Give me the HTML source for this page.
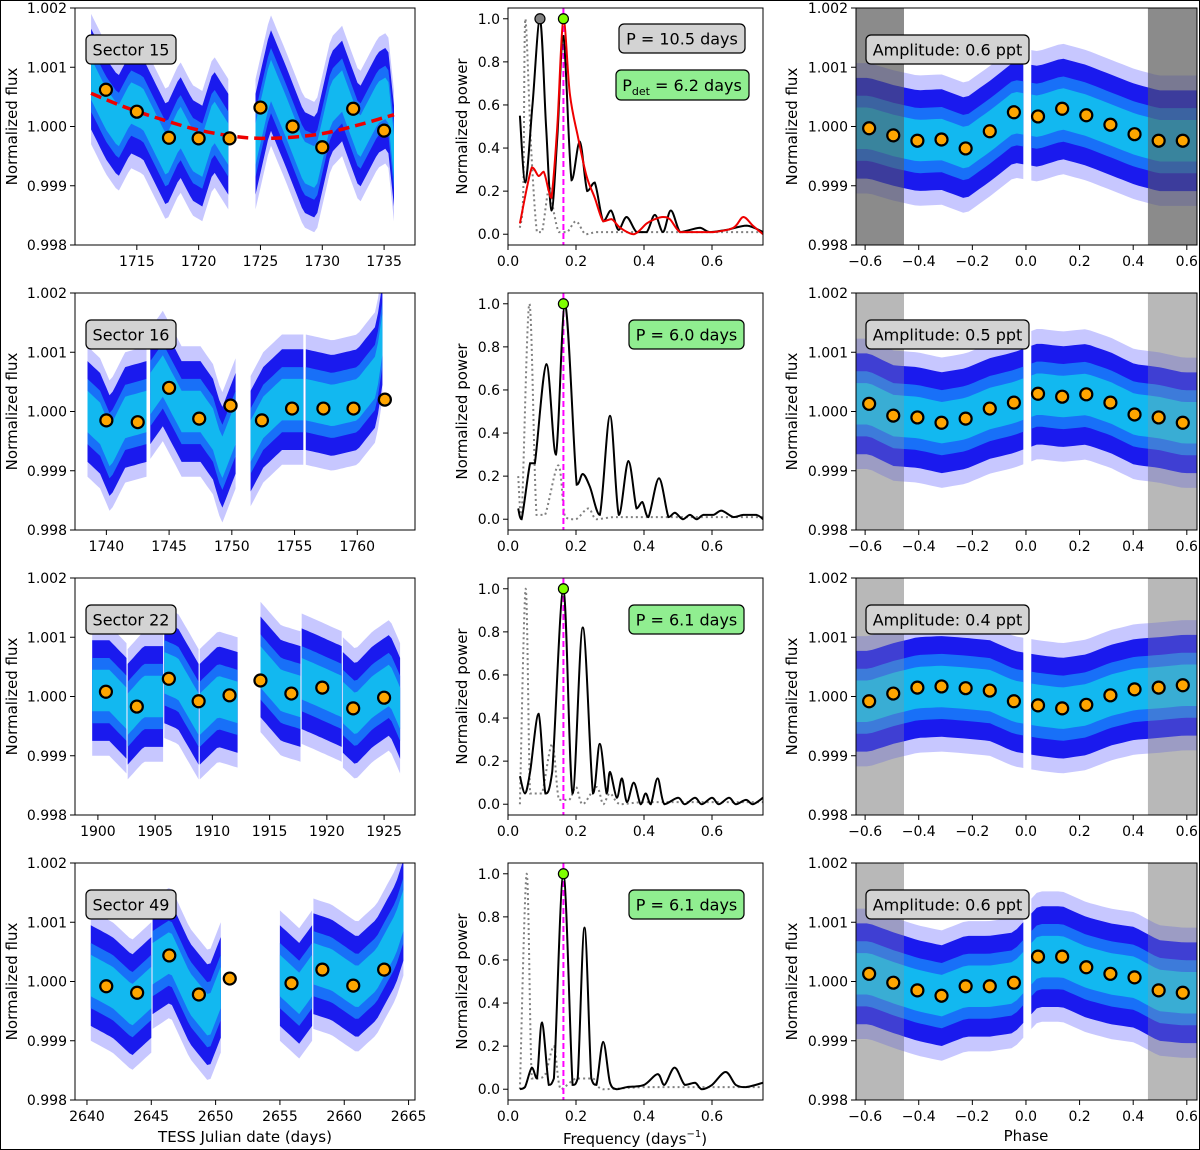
<!DOCTYPE html>
<html><head><meta charset="utf-8">
<style>
html,body{margin:0;padding:0;background:#fff;}
svg{display:block;font-family:"DejaVu Sans","Liberation Sans",sans-serif;}
</style></head>
<body>
<svg id="fig" width="1200" height="1150" viewBox="0 0 1200 1150" xmlns="http://www.w3.org/2000/svg">
<rect x="0.5" y="0.5" width="1199" height="1149" fill="#fff" stroke="#000" stroke-width="1"/>
</svg>
<script>
// ---------- DATA ----------
const sectorNames = ["Sector 15","Sector 16","Sector 22","Sector 49"];
const amplitudeLabels = ["Amplitude: 0.6 ppt","Amplitude: 0.5 ppt","Amplitude: 0.4 ppt","Amplitude: 0.6 ppt"];
const periodLabels = ["P = 6.0 days","P = 6.1 days","P = 6.1 days"];
const timeDomains = [[1710.0,1737.5],[1737.5,1764.6],[1898.0,1927.7],[2639.07,2665.5]];
const timeTicks = [[1715,1720,1725,1730,1735],[1740,1745,1750,1755,1760],[1900,1905,1910,1915,1920,1925],[2640,2645,2650,2655,2660,2665]];
const fluxTicks = [0.998,0.999,1.000,1.001,1.002];
const powerTicks = [0.0,0.2,0.4,0.6,0.8,1.0];
const freqTicks = [0.0,0.2,0.4,0.6];
const phaseTicks = [-0.6,-0.4,-0.2,0.0,0.2,0.4,0.6];
const shadeEdges = [[-0.634,-0.455],[0.455,0.638]];

// light-curve trend segments (time, flux offset in ppt)
const lc15T = [[1711.3,1712.5,1713.5,1714.5,1715.5,1717.4,1718.5,1719.5,1720.3,1721.2,1722.4],[1724.6,1725.8,1727,1728.5,1729.5,1730.7,1731.6,1733.0,1734.5,1735.3,1735.8]];
const lc15F = [[0.8,0.3,0.0,0.4,0.3,-0.5,0.0,-0.4,-0.5,0.1,-0.3],[-0.3,0.8,0.2,-0.6,-0.7,0.4,0.6,-0.2,0.4,0.5,-0.5]];
const lc16T = [[1738.5,1739.5,1740.3,1741.5,1743.2],[1743.5,1744.5,1746,1747.5,1748.5,1749.2,1750.3],[1751.5,1752.5,1754,1755.7],[1755.9,1758,1760,1761.5,1762]];
const lc16F = [[0.0,-0.2,-0.6,-0.1,0.0],[0.3,0.6,0.0,0.0,-0.3,-0.8,-0.2],[-0.5,-0.1,0.2,0.2],[0.2,0.1,0.2,0.6,1.3]];
const lc22T = [[1899.5,1901,1902.5],[1902.6,1904,1905.7],[1905.8,1907,1908.8],[1908.9,1910.5,1912.2],[1914.2,1916,1917.7],[1917.8,1919,1921.3],[1921.4,1922.5,1924,1925.5,1926.4]];
const lc22F = [[0.1,0.1,-0.2],[-0.3,0.0,0.0],[0.4,0.3,-0.3],[-0.3,0.0,-0.1],[0.5,0.1,0.0],[0.3,0.2,0.0],[-0.1,-0.3,0.0,0.2,-0.2]];
const lc49T = [[2640.3,2642,2643.5,2645],[2645.1,2646.5,2648,2649.5,2650.4],[2655,2656.5,2657.5],[2657.6,2659,2661,2662.5,2664,2664.6]];
const lc49F = [[0.1,-0.1,-0.4,-0.1],[0.3,0.5,-0.2,-0.6,-0.1],[0.1,-0.2,0.1],[0.3,0.2,-0.1,0.2,0.8,1.2]];
const lcSegT = [lc15T,lc16T,lc22T,lc49T];
const lcSegF = [lc15F,lc16F,lc22F,lc49F];

// binned points (time, flux)
const bin15T = [1712.5,1715,1717.6,1720,1722.5,1725,1727.6,1730,1732.5,1735];
const bin15F = [1.00062,1.00025,0.99981,0.99980,0.99980,1.00032,1.0000,0.99965,1.0003,0.99993];
const bin16T = [1740,1742.5,1745,1747.4,1749.9,1752.4,1754.8,1757.3,1759.7,1762.2];
const bin16F = [0.99985,0.99982,1.0004,0.99988,1.0001,0.99985,1.00005,1.00005,1.00005,1.0002];
const bin22T = [1900.7,1903.4,1906.2,1908.8,1911.5,1914.2,1916.9,1919.6,1922.3,1925];
const bin22F = [1.00008,0.99983,1.0003,0.99992,1.00002,1.00027,1.00005,1.00015,0.9998,0.99998];
const bin49T = [2641.5,2643.9,2646.4,2648.7,2651.1,2655.9,2658.3,2660.7,2663.1];
const bin49F = [0.99992,0.99981,1.00044,0.99978,1.00005,0.99997,1.0002,0.99993,1.0002];
const binT = [bin15T,bin16T,bin22T,bin49T];
const binF = [bin15F,bin16F,bin22F,bin49F];

// sector 15 long-term trend (red dashed)
const trendT = [1711.3,1714,1717,1720,1723,1725,1727,1730,1733,1735.8];
const trendF = [1.00056,1.00033,1.00012,0.99994,0.99983,0.99980,0.99981,0.99988,1.00003,1.0002];

// periodograms
const pg15Fq = [0.035,0.051,0.072,0.094,0.112,0.128,0.145,0.163,0.187,0.211,0.233,0.255,0.28,0.303,0.325,0.349,0.378,0.408,0.432,0.456,0.479,0.506,0.535,0.565,0.594,0.643,0.702,0.75];
const pg15P = [0.55,0.24,0.6,1.0,0.5,0.11,0.45,0.92,0.25,0.43,0.20,0.24,0.06,0.11,0.02,0.08,0.01,0.01,0.09,0.01,0.11,0.01,0.02,0.03,0.01,0.02,0.04,0.01];
const pgRedFq = [0.035,0.07,0.09,0.105,0.12,0.128,0.145,0.163,0.182,0.206,0.231,0.255,0.28,0.305,0.33,0.37,0.408,0.432,0.456,0.476,0.506,0.545,0.604,0.663,0.692,0.72,0.75];
const pgRedP = [0.05,0.31,0.27,0.29,0.2,0.17,0.5,1.0,0.65,0.45,0.27,0.17,0.06,0.07,0.03,0.0,0.05,0.07,0.08,0.07,0.01,0.01,0.01,0.03,0.08,0.04,0.0];
const pg15DotFq = [0.035,0.045,0.051,0.068,0.085,0.1,0.121,0.135,0.15,0.174,0.2,0.228,0.26,0.3,0.4,0.5,0.6,0.75];
const pg15DotP = [0.03,0.2,1.0,0.4,0.01,0.01,0.22,0.1,0.01,0.01,0.06,0.0,0.01,0.01,0.01,0.01,0.01,0.01];

const pg16Fq = [0.030,0.04,0.065,0.079,0.113,0.141,0.168,0.202,0.22,0.241,0.27,0.3,0.326,0.354,0.378,0.395,0.413,0.444,0.472,0.491,0.514,0.535,0.555,0.574,0.604,0.628,0.663,0.692,0.731,0.75];
const pg16P = [0.05,0.0,0.26,0.26,0.72,0.3,1.0,0.16,0.21,0.15,0.02,0.48,0.02,0.27,0.05,0.08,0.01,0.19,0.01,0.03,0.0,0.02,0.0,0.02,0.02,0.04,0.01,0.02,0.02,0.0];
const pg16DotFq = [0.030,0.04,0.063,0.084,0.109,0.148,0.168,0.2,0.236,0.26,0.31,0.36,0.5,0.75];
const pg16DotP = [0.2,0.01,1.0,0.02,0.02,0.25,0.01,0.0,0.05,0.0,0.01,0.01,0.01,0.01];

const pg22Fq = [0.035,0.05,0.065,0.09,0.11,0.13,0.163,0.19,0.22,0.25,0.27,0.29,0.30,0.32,0.335,0.35,0.37,0.39,0.405,0.42,0.44,0.46,0.5,0.52,0.55,0.57,0.6,0.62,0.65,0.67,0.7,0.72,0.75];
const pg22P = [0.13,0.05,0.15,0.42,0.05,0.15,1.0,0.05,0.82,0.05,0.28,0.05,0.15,0.03,0.12,0.01,0.1,0.0,0.05,0.0,0.12,0.0,0.03,0.0,0.03,0.0,0.03,0.0,0.03,0.0,0.02,0.0,0.03];
const pg22DotFq = [0.035,0.052,0.065,0.08,0.1,0.13,0.15,0.18,0.2,0.22,0.26,0.28,0.3,0.33,0.4,0.5,0.75];
const pg22DotP = [0.0,1.0,0.05,0.05,0.05,0.28,0.02,0.02,0.08,0.0,0.08,0.0,0.05,0.0,0.01,0.01,0.01];

const pg49Fq = [0.035,0.05,0.07,0.085,0.1,0.12,0.135,0.163,0.19,0.205,0.225,0.245,0.26,0.28,0.3,0.32,0.35,0.4,0.44,0.46,0.49,0.52,0.55,0.57,0.6,0.64,0.67,0.7,0.75];
const pg49P = [0.0,0.01,0.1,0.05,0.31,0.02,0.05,1.0,0.02,0.05,0.75,0.05,0.02,0.22,0.03,0.0,0.01,0.02,0.07,0.02,0.1,0.02,0.03,0.0,0.02,0.08,0.02,0.01,0.03];
const pg49DotFq = [0.035,0.055,0.07,0.09,0.11,0.135,0.155,0.2,0.25,0.28,0.4,0.5,0.75];
const pg49DotP = [0.0,1.0,0.05,0.05,0.07,0.2,0.0,0.05,0.05,0.0,0.01,0.01,0.01];

const pgFq = [pg15Fq,pg16Fq,pg22Fq,pg49Fq];
const pgP = [pg15P,pg16P,pg22P,pg49P];
const pgDotFq = [pg15DotFq,pg16DotFq,pg22DotFq,pg49DotFq];
const pgDotP = [pg15DotP,pg16DotP,pg22DotP,pg49DotP];
const detFreq = [0.163,0.163,0.163,0.163];
const altPeakFreq = 0.094;

// phase-folded binned points (flux offset in ppt)
const phaseBins = [-0.585,-0.495,-0.405,-0.315,-0.225,-0.135,-0.045,0.045,0.135,0.225,0.315,0.405,0.495,0.585];
const ph15 = [-0.03,-0.15,-0.24,-0.22,-0.37,-0.08,0.24,0.17,0.30,0.19,0.03,-0.13,-0.24,-0.24];
const ph16 = [0.13,-0.07,-0.10,-0.19,-0.12,0.05,0.15,0.30,0.25,0.29,0.15,-0.05,-0.10,-0.19];
const ph22 = [-0.08,0.05,0.15,0.17,0.14,0.10,-0.08,-0.15,-0.20,-0.14,0.02,0.12,0.15,0.19];
const ph49 = [0.13,-0.02,-0.15,-0.24,-0.08,-0.08,-0.02,0.42,0.42,0.24,0.13,0.07,-0.15,-0.19];
const phF = [ph15,ph16,ph22,ph49];

// ---------- DRAWING ----------
const NS = "http://www.w3.org/2000/svg";
const svg = document.getElementById('fig');
function el(tag, attrs, parent){
  const e = document.createElementNS(NS, tag);
  for (const k in attrs) e.setAttribute(k, attrs[k]);
  (parent||svg).appendChild(e);
  return e;
}
function linScale(d0,d1,r0,r1){ return v => r0 + (v-d0)/(d1-d0)*(r1-r0); }
function clampY(v,a,b){ const lo=Math.min(a,b), hi=Math.max(a,b); return Math.max(lo,Math.min(hi,v)); }
function smoothPath(pts){
  if(pts.length<2) return "";
  let d = "M"+pts[0][0].toFixed(2)+","+pts[0][1].toFixed(2);
  for(let i=0;i<pts.length-1;i++){
    const p0=pts[Math.max(i-1,0)], p1=pts[i], p2=pts[i+1], p3=pts[Math.min(i+2,pts.length-1)];
    const c1=[p1[0]+(p2[0]-p0[0])/6, clampY(p1[1]+(p2[1]-p0[1])/6,p1[1],p2[1])];
    const c2=[p2[0]-(p3[0]-p1[0])/6, clampY(p2[1]-(p3[1]-p1[1])/6,p1[1],p2[1])];
    d += "C"+c1[0].toFixed(2)+","+c1[1].toFixed(2)+" "+c2[0].toFixed(2)+","+c2[1].toFixed(2)+" "+p2[0].toFixed(2)+","+p2[1].toFixed(2);
  }
  return d;
}
function lerpArr(xs, ys, x){
  if(x<=xs[0]) return ys[0];
  if(x>=xs[xs.length-1]) return ys[ys.length-1];
  for(let i=0;i<xs.length-1;i++){
    if(x>=xs[i] && x<=xs[i+1]){ const t=(x-xs[i])/(xs[i+1]-xs[i]); return ys[i]+t*(ys[i+1]-ys[i]); }
  }
  return ys[0];
}
const COLS = [[75,415],[508,763],[856,1197]];
const ROWS = [[8,245],[293,530],[578,815],[863,1100]];

function axesFrame(g, x0,x1,y0,y1, name){
  const r = el('rect',{x:x0,y:y0,width:x1-x0,height:y1-y0,fill:'none',stroke:'#000','stroke-width':1});
  
  
  g.appendChild(r);
}
function xTicks(g, ticks, sx, y1, fmt, name){
  ticks.forEach(t=>{
    const x = sx(t);
    const l = el('line',{x1:x,x2:x,y1:y1,y2:y1+5,stroke:'#000','stroke-width':1},g);
    
    
    const tx = el('text',{x:x,y:y1+21,'font-size':14,'text-anchor':'middle',fill:'#000'},g);
    tx.textContent = fmt(t);
    
    
  });
}
function yTicks(g, ticks, sy, x0, fmt, name){
  ticks.forEach(t=>{
    const y = sy(t);
    const l = el('line',{x1:x0-5,x2:x0,y1:y,y2:y,stroke:'#000','stroke-width':1},g);
    
    
    const tx = el('text',{x:x0-8,y:y+5,'font-size':14,'text-anchor':'end',fill:'#000'},g);
    tx.textContent = fmt(t);
    
    
  });
}
function yLabel(g, x, cy, text, name){
  const t = el('text',{x:x,y:cy,'font-size':15,'text-anchor':'middle',transform:`rotate(-90 ${x} ${cy})`,fill:'#000'},g);
  t.textContent = text;
  
  
}
function labelBox(g, x, y, w, h, fill, text, name){
  const r = el('rect',{x:x,y:y,width:w,height:h,rx:5,fill:fill,stroke:'#000','stroke-width':1.2},g);
  
  
  const t = el('text',{x:x+w/2,y:y+h/2+6,'font-size':16,'text-anchor':'middle',fill:'#000'},g);
  t.textContent = text;
  
  
  return t;
}
const fmtFlux = v => v.toFixed(3);
const fmt1 = v => (v<0?'\u2212':'')+Math.abs(v).toFixed(1);

function drawBand(g, xs, cs, sx, sy, clipId, name){
  const layers = [[1.1,'rgba(70,70,255,0.3)'],[0.85,'#1a1aee'],[0.55,'#1870f8'],[0.35,'#12b8f0']];
  layers.forEach(([hw,col])=>{
    const up = xs.map((x,i)=>[sx(x), sy(1+(cs[i]+hw)/1000)]);
    const dn = xs.map((x,i)=>[sx(x), sy(1+(cs[i]-hw)/1000)]).reverse();
    const p = el('polygon',{points:up.concat(dn).map(p=>p[0].toFixed(1)+','+p[1].toFixed(1)).join(' '),fill:col,'clip-path':`url(#${clipId})`},g);
    
    
  });
}
function densify(ts, fs, step){
  const xs=[], ys=[];
  for(let t=ts[0]; t<=ts[ts.length-1]+1e-9; t+=step){ xs.push(t); ys.push(lerpArr(ts,fs,t)); }
  if(xs[xs.length-1]<ts[ts.length-1]){ xs.push(ts[ts.length-1]); ys.push(fs[fs.length-1]); }
  return [xs,ys];
}
function orangeDot(g, x, y, name){
  const c = el('circle',{cx:x,cy:y,r:6,fill:'#ffa500',stroke:'#000','stroke-width':2.2},g);
  
  
}

const defs = el('defs',{});

for(let r=0;r<4;r++){
  const [y0,y1] = ROWS[r];
  const sy = linScale(0.998,1.002,y1,y0);

  // ---- column 1: light curve ----
  {
    const [x0,x1] = COLS[0];
    const g = el('g',{});  
    const cid = 'clipA'+r;
    const cp = el('clipPath',{id:cid},defs); el('rect',{x:x0,y:y0,width:x1-x0,height:y1-y0},cp);
    const sx = linScale(timeDomains[r][0],timeDomains[r][1],x0,x1);
    lcSegT[r].forEach((ts,si)=>{
      const [xs,ys] = densify(ts, lcSegF[r][si], 0.25);
      drawBand(g, xs, ys, sx, sy, cid, 'lightcurve-segment-'+(si+1));
    });
    if(r===0){
      const pts = trendT.map((t,i)=>[sx(t), sy(trendF[i])]);
      const p = el('path',{d:smoothPath(pts),fill:'none',stroke:'#ee0000','stroke-width':3.5,'stroke-dasharray':'11 6'},g);
      
      
    }
    binT[r].forEach((t,i)=> orangeDot(g, sx(t), sy(binF[r][i]), 'binned-flux-point'));
    axesFrame(g,x0,x1,y0,y1,'lightcurve-axes-frame');
    xTicks(g, timeTicks[r], sx, y1, v=>String(v), 'time-axis');
    yTicks(g, fluxTicks, sy, x0, fmtFlux, 'flux-axis');
    yLabel(g, 17, (y0+y1)/2, 'Normalized flux', 'flux-axis-title');
    labelBox(g, 86, y0+27, 90, 29, '#d3d3d3', sectorNames[r], 'sector-label');
    if(r===3){
      const t = el('text',{x:245,y:1142,'font-size':15,'text-anchor':'middle'},g);
      t.textContent='TESS Julian date (days)';
      
      
    }
  }

  // ---- column 2: periodogram ----
  {
    const [x0,x1] = COLS[1];
    const g = el('g',{});  
    const cid = 'clipB'+r;
    const cp = el('clipPath',{id:cid},defs); el('rect',{x:x0,y:y0,width:x1-x0,height:y1-y0},cp);
    const sx = linScale(0,0.75,x0,x1);
    const syp = linScale(-0.05,1.05,y1,y0);
    const dp = el('path',{d:smoothPath(pgDotFq[r].map((f,i)=>[sx(f),syp(pgDotP[r][i])])),fill:'none',stroke:'#808080','stroke-width':2,'stroke-dasharray':'2 3','clip-path':`url(#${cid})`},g);
    
    
    const vl = el('line',{x1:sx(detFreq[r]),x2:sx(detFreq[r]),y1:y0,y2:y1,stroke:'#ff00ff','stroke-width':2,'stroke-dasharray':'6 3'},g);
    
    
    const bp = el('path',{d:smoothPath(pgFq[r].map((f,i)=>[sx(f),syp(pgP[r][i])])),fill:'none',stroke:'#000','stroke-width':2,'clip-path':`url(#${cid})`},g);
    
    
    if(r===0){
      const rp = el('path',{d:smoothPath(pgRedFq.map((f,i)=>[sx(f),syp(pgRedP[i])])),fill:'none',stroke:'#ee0000','stroke-width':2,'clip-path':`url(#${cid})`},g);
      
      
      const gc = el('circle',{cx:sx(altPeakFreq),cy:syp(1.0),r:5,fill:'#808080',stroke:'#000','stroke-width':1.2},g);
      
      
    }
    const gm = el('circle',{cx:sx(detFreq[r]),cy:syp(1.0),r:5,fill:'#7fff00',stroke:'#000','stroke-width':1.2},g);
    
    
    axesFrame(g,x0,x1,y0,y1,'periodogram-axes-frame');
    xTicks(g, freqTicks, sx, y1, v=>v.toFixed(1), 'frequency-axis');
    yTicks(g, powerTicks, syp, x0, v=>v.toFixed(1), 'power-axis');
    yLabel(g, 467, (y0+y1)/2, 'Normalized power', 'power-axis-title');
    if(r===0){
      labelBox(g, 619, 24, 126, 29, '#d3d3d3', 'P = 10.5 days', 'raw-period-label');
      const r2 = el('rect',{x:616,y:70,width:133,height:30,rx:5,fill:'#90ee90',stroke:'#000','stroke-width':1.2},g);
      
      
      const t = el('text',{x:682,y:91,'font-size':16,'text-anchor':'middle'},g);
      t.innerHTML = 'P<tspan font-size="11" dy="4">det</tspan><tspan dy="-4"> = 6.2 days</tspan>';
      
      
    } else {
      labelBox(g, 629, y0+27, 115, 29, '#90ee90', periodLabels[r-1], 'period-label');
    }
    if(r===3){
      const t = el('text',{x:635,y:1144,'font-size':15,'text-anchor':'middle'},g);
      t.innerHTML = 'Frequency (days<tspan font-size="10" dy="-7">\u22121</tspan><tspan dy="7">)</tspan>';
      
      
    }
  }

  // ---- column 3: phase-folded ----
  {
    const [x0,x1] = COLS[2];
    const g = el('g',{});  
    const cid = 'clipC'+r;
    const cp = el('clipPath',{id:cid},defs); el('rect',{x:x0,y:y0,width:x1-x0,height:y1-y0},cp);
    const sx = linScale(-0.634,0.638,x0,x1);
    shadeEdges.forEach(([a,b])=>{
      const s = el('rect',{x:sx(a),y:y0,width:sx(b)-sx(a),height:y1-y0,fill:'#c8c8c8'},g);
      
      
    });
    const bandX = [-0.634].concat(phaseBins,[0.638]);
    const bandY = [phF[r][0]].concat(phF[r],[phF[r][phF[r].length-1]]);
    const nL = bandX.filter(p=>p<=-0.01).length;
    const [lx,ly] = densify(bandX.slice(0,nL).concat([-0.01]), bandY.slice(0,nL).concat([lerpArr(bandX,bandY,-0.01)]), 0.02);
    drawBand(g, lx, ly, sx, sy, cid, 'phase-band-left');
    const nR = bandX.filter(p=>p>=0.02).length;
    const rx = [0.02].concat(bandX.slice(bandX.length-nR));
    const ry = [lerpArr(bandX,bandY,0.02)].concat(bandY.slice(bandX.length-nR));
    const [rxx,ryy] = densify(rx, ry, 0.02);
    drawBand(g, rxx, ryy, sx, sy, cid, 'phase-band-right');
    shadeEdges.forEach(([a,b])=>{
      const s = el('rect',{x:sx(a),y:y0,width:sx(b)-sx(a),height:y1-y0,fill:r===0?'rgba(90,90,90,0.55)':'rgba(150,150,150,0.3)'},g);
      
      
    });
    phaseBins.forEach((p,i)=> orangeDot(g, sx(p), sy(1+phF[r][i]/1000), 'phase-binned-point'));
    axesFrame(g,x0,x1,y0,y1,'phase-axes-frame');
    xTicks(g, phaseTicks, sx, y1, fmt1, 'phase-axis');
    yTicks(g, fluxTicks, sy, x0, fmtFlux, 'phase-flux-axis');
    yLabel(g, 797, (y0+y1)/2, 'Normalized flux', 'phase-flux-axis-title');
    labelBox(g, 866, y0+27, 163, 29, '#d3d3d3', amplitudeLabels[r], 'amplitude-label');
    if(r===3){
      const t = el('text',{x:1026,y:1141,'font-size':15,'text-anchor':'middle'},g);
      t.textContent='Phase';
      
      
    }
  }
}
</script>
</body></html>
